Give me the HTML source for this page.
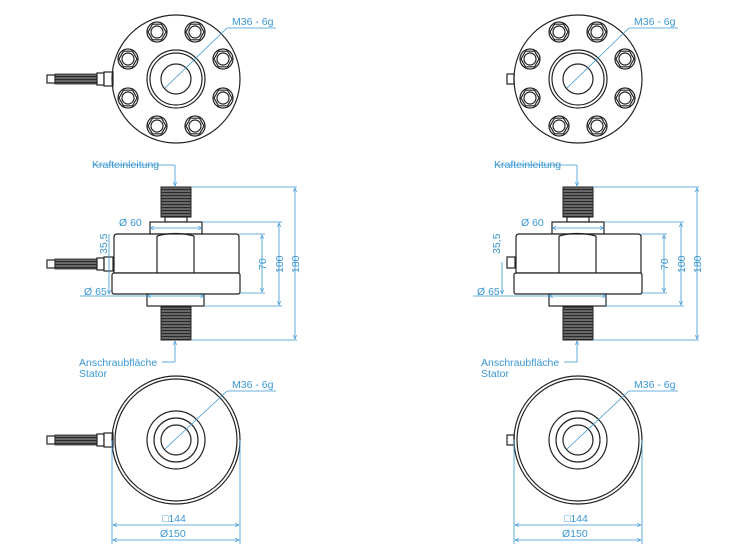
<!DOCTYPE html>
<html><head><meta charset="utf-8"><style>
html,body{margin:0;padding:0;background:#fff;}
svg{display:block;font-family:"Liberation Sans",sans-serif;}
.b{fill:none;stroke:#222;stroke-width:1.2}
.bf{fill:#fff;stroke:#222;stroke-width:1.2}
.d{fill:none;stroke:#3a97d4;stroke-width:0.8}
.t{fill:#3a97d4;font-size:10.5px}
</style></head><body>
<svg width="752" height="550" viewBox="0 0 752 550">
<defs>
<marker id="a" markerWidth="6" markerHeight="6" refX="5" refY="3" orient="auto-start-reverse"><path d="M0,0.8 L5,3 L0,5.2" fill="none" stroke="#3a97d4" stroke-width="0.8"/></marker>
<g id="hex"><circle r="10" class="bf"/><polygon points="9,0 4.5,7.8 -4.5,7.8 -9,0 -4.5,-7.8 4.5,-7.8" class="b" stroke-width="0.8"/><circle r="6" class="b"/></g>
<g id="top">
<circle cx="0" cy="0" r="64" class="b" stroke-width="1.5"/>
<use href="#hex" x="-19" y="-47"/><use href="#hex" x="19" y="-47"/>
<use href="#hex" x="-48" y="-20"/><use href="#hex" x="47" y="-20"/>
<use href="#hex" x="-48" y="19"/><use href="#hex" x="47" y="19"/>
<use href="#hex" x="-19" y="47"/><use href="#hex" x="19" y="47"/>
<circle r="29" class="b"/><circle r="26" class="b" stroke-width="0.8"/>
<circle r="15" class="b" stroke-width="2"/>
</g>
<g id="bot">
<circle r="64" class="b" stroke-width="1.5"/><circle r="61" class="b" stroke-width="0.6"/>
<circle r="29" class="b"/><circle r="22" class="b"/>
<circle r="15" class="b" stroke-width="2"/>
</g>
<pattern id="thr" width="3" height="3" patternUnits="userSpaceOnUse"><rect width="3" height="3" fill="#6a6a6a"/><rect y="0" width="3" height="1.1" fill="#2a2a2a"/></pattern>
<g id="side">
<rect x="-14" y="187" width="30" height="30" fill="url(#thr)" stroke="#222"/>
<rect x="-10" y="217" width="22" height="5" class="bf"/>
<rect x="-25" y="222" width="52" height="12" class="bf"/>
<path d="M-61,237 Q-61,234 -58,234 L61,234 Q64,234 64,237 L64,273 L-61,273 Z" class="bf"/>
<line x1="-18" y1="236" x2="-18" y2="273" class="b"/><line x1="19" y1="236" x2="19" y2="273" class="b"/>
<path d="M-18,236 Q0,231 19,236" class="b"/>
<rect x="-63" y="273" width="128" height="21" rx="2" class="bf"/>
<rect x="-28" y="294" width="57" height="12" class="bf"/>
<rect x="-14" y="307" width="30" height="33" fill="url(#thr)" stroke="#222"/>
<line x1="16" y1="187" x2="122" y2="187" class="d"/><line x1="16" y1="340" x2="122" y2="340" class="d"/>
<line x1="120" y1="188" x2="120" y2="339" class="d" marker-start="url(#a)" marker-end="url(#a)"/>
<line x1="27" y1="222" x2="107" y2="222" class="d"/><line x1="29" y1="306" x2="107" y2="306" class="d"/>
<line x1="104" y1="223" x2="104" y2="305" class="d" marker-start="url(#a)" marker-end="url(#a)"/>
<line x1="64" y1="234" x2="90" y2="234" class="d"/><line x1="65" y1="293" x2="90" y2="293" class="d"/>
<line x1="87" y1="235" x2="87" y2="292" class="d" marker-start="url(#a)" marker-end="url(#a)"/>
<line x1="-25" y1="228" x2="27" y2="228" class="d" marker-start="url(#a)" marker-end="url(#a)"/>
<line x1="-28" y1="296" x2="29" y2="296" class="d" marker-start="url(#a)" marker-end="url(#a)"/>
<line x1="0" y1="165" x2="0" y2="186" class="d" marker-end="url(#a)"/>
<line x1="0" y1="362" x2="0" y2="341" class="d" marker-end="url(#a)"/>
</g>
<g id="bdim">
<line x1="-64" y1="440" x2="-64" y2="544" class="d"/><line x1="64" y1="440" x2="64" y2="544" class="d"/>
<line x1="-63" y1="525" x2="63" y2="525" class="d" marker-start="url(#a)" marker-end="url(#a)"/>
<line x1="-63" y1="540" x2="63" y2="540" class="d" marker-start="url(#a)" marker-end="url(#a)"/>
</g>
<g id="cable">
<rect x="0" y="-4" width="8" height="8" class="bf"/>
<rect x="8" y="-5" width="42" height="10" fill="url(#thr)" stroke="#222" stroke-width="0.8"/>
<rect x="50" y="-6" width="7" height="12" class="bf"/>
<rect x="57" y="-7" width="9" height="14" class="bf"/>
</g>
</defs>

<use href="#cable" x="47" y="79"/>
<use href="#top" x="176" y="79"/>
<line x1="165" y1="88" x2="227" y2="28" class="d"/><line x1="227" y1="28" x2="276" y2="28" class="d"/>
<text x="232" y="25" class="t">M36 - 6g</text>

<use href="#side" x="175" y="0"/>
<use href="#cable" x="47" y="264"/>
<line x1="93" y1="165" x2="175" y2="165" class="d"/><line x1="162" y1="362" x2="175" y2="362" class="d"/>
<text x="92" y="168" class="t">Krafteinleitung</text>
<text x="79" y="366" class="t">Anschraubfläche</text>
<text x="79" y="377" class="t">Stator</text>
<line x1="109" y1="234" x2="109" y2="294" class="d" marker-end="url(#a)"/>
<line x1="80" y1="296" x2="147" y2="296" class="d"/>
<text x="119" y="226" class="t">Ø 60</text>
<text x="84" y="295" class="t">Ø 65</text>
<text transform="translate(107,254) rotate(-90)" class="t">35,5</text>
<text transform="translate(266,270) rotate(-90)" class="t">70</text>
<text transform="translate(283,273) rotate(-90)" class="t">100</text>
<text transform="translate(299,273) rotate(-90)" class="t">180</text>

<use href="#cable" x="47" y="440"/>
<use href="#bot" x="176" y="440"/>
<line x1="165" y1="449" x2="227" y2="391" class="d"/><line x1="227" y1="391" x2="276" y2="391" class="d"/>
<text x="232" y="388" class="t">M36 - 6g</text>
<use href="#bdim" x="176" y="0"/>
<text x="162" y="522" class="t">□144</text>
<text x="160" y="537" class="t">Ø150</text>

<rect x="507" y="74" width="7" height="10" class="bf"/>
<use href="#top" x="578" y="79"/>
<line x1="567" y1="88" x2="629" y2="28" class="d"/><line x1="629" y1="28" x2="678" y2="28" class="d"/>
<text x="634" y="25" class="t">M36 - 6g</text>

<use href="#side" x="577" y="0"/>
<rect x="507" y="257" width="8" height="11" class="bf"/>
<line x1="495" y1="165" x2="577" y2="165" class="d"/><line x1="564" y1="362" x2="577" y2="362" class="d"/>
<text x="494" y="168" class="t">Krafteinleitung</text>
<text x="481" y="366" class="t">Anschraubfläche</text>
<text x="481" y="377" class="t">Stator</text>
<line x1="502" y1="262" x2="502" y2="294" class="d" marker-end="url(#a)"/>
<line x1="473" y1="296" x2="549" y2="296" class="d"/>
<text x="521" y="226" class="t">Ø 60</text>
<text x="477" y="295" class="t">Ø 65</text>
<text transform="translate(500,254) rotate(-90)" class="t">35,5</text>
<text transform="translate(668,270) rotate(-90)" class="t">70</text>
<text transform="translate(685,273) rotate(-90)" class="t">100</text>
<text transform="translate(701,273) rotate(-90)" class="t">180</text>

<rect x="507" y="435" width="7" height="10" class="bf"/>
<use href="#bot" x="578" y="440"/>
<line x1="567" y1="449" x2="629" y2="391" class="d"/><line x1="629" y1="391" x2="678" y2="391" class="d"/>
<text x="634" y="388" class="t">M36 - 6g</text>
<use href="#bdim" x="578" y="0"/>
<text x="564" y="522" class="t">□144</text>
<text x="562" y="537" class="t">Ø150</text>
</svg>
</body></html>
